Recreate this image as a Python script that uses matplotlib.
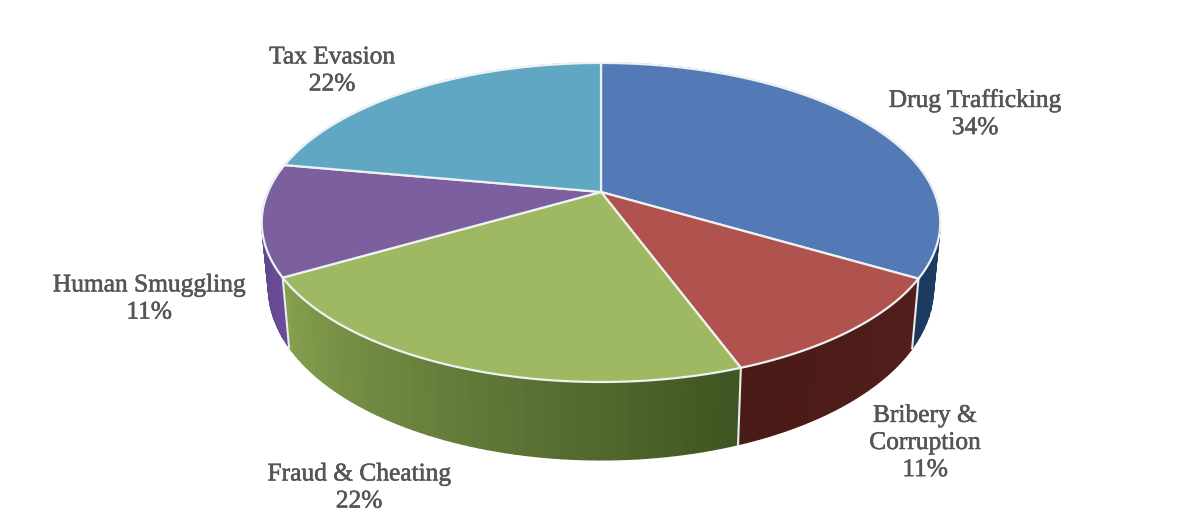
import numpy as np
import matplotlib
matplotlib.use("Agg")
import matplotlib.pyplot as plt
import matplotlib.patheffects as pe
from matplotlib.colors import to_rgb

categories = ["Drug Trafficking", "Bribery &\nCorruption", "Fraud & Cheating", "Human Smuggling", "Tax Evasion"]
pct_labels = [34, 11, 22, 11, 22]
# the slices as drawn are not quite what the printed labels say
slice_sizes = [33.5, 10.9, 22.2, 11.3, 22.1]

top_colors = ["#537ab6", "#b0524d", "#9eb961", "#7b5f9e", "#5fa7c3"]
side_light = ["#2a5080", "#521f1b", "#86a04f", "#6a4c97", "#4a8aa5"]
side_dark = ["#1b3a60", "#4a1a17", "#3f5522", "#5f4389", "#3b7a95"]
label_pos = [(975, 114), (925, 443), (359, 488), (149, 299), (332, 71)]

# pie geometry in image pixels
cx, cy = 601, 192
rx, ry = 333, 153.7
persp = 0.191
depth = 63
bottom_shrink = 0.98


def project(theta, drop=0):
    # theta is clockwise from the top of the pie
    u, v = np.sin(theta), np.cos(theta)
    w = 1 + persp * v
    scale = bottom_shrink if drop else 1
    return cx + scale * rx * u / w, cy - ry * v / w + drop / w


fig = plt.figure(figsize=(11.86, 5.15), dpi=100)
ax = fig.add_axes([0, 0, 1, 1])
ax.set_xlim(0, 1186)
ax.set_ylim(515, 0)
ax.axis("off")

edges = np.radians(np.cumsum([0] + slice_sizes) * 3.6)

# outer wall first, the top surface covers whatever is behind it
for i in range(len(slice_sizes)):
    th = np.linspace(edges[i], edges[i + 1], 60)
    c0, c1 = np.array(to_rgb(side_light[i])), np.array(to_rgb(side_dark[i]))
    # green wall gets darker going right, so walk its gradient backwards
    for j in range(len(th) - 1):
        t = j / (len(th) - 2)
        col = c0 + (c1 - c0) * (1 - t if i == 2 else t)
        x0, y0 = project(th[j])
        x1, y1 = project(th[j + 1])
        x2, y2 = project(th[j + 1], depth)
        x3, y3 = project(th[j], depth)
        ax.fill([x0, x1, x2, x3], [y0, y1, y2, y3], color=col, lw=1.0, zorder=2)
    # white seam on the wall where the slices meet
    if np.cos(edges[i]) < 0.2:
        xa, ya = project(edges[i])
        xb, yb = project(edges[i], depth)
        ax.plot([xa, xb], [ya, yb], color="#e8ecec", lw=1.5, zorder=3)

for i in range(len(slice_sizes)):
    th = np.linspace(edges[i], edges[i + 1], 120)
    xs, ys = project(th)
    ax.fill(np.r_[cx, xs], np.r_[cy, ys], facecolor=top_colors[i],
            edgecolor="#eef2f2", lw=1.6, joinstyle="round", zorder=4)

for name, pct, (lx, ly) in zip(categories, pct_labels, label_pos):
    ax.text(lx, ly, f"{name}\n{pct}%", ha="center", va="center", fontsize=18.3,
            family="Liberation Serif", color="#555555", linespacing=1.3, zorder=5,
            path_effects=[pe.withStroke(linewidth=0.4, foreground="#555555")])

fig.savefig("out.png", dpi=100, facecolor="white")
